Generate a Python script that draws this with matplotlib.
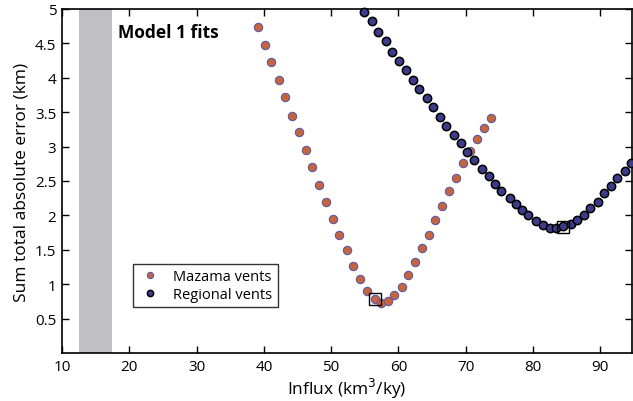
import matplotlib
matplotlib.use("Agg")
import matplotlib.pyplot as plt

plt.rcParams['font.family'] = ['Open Sans', 'DejaVu Sans']

mazama_x = [39.1, 40.1, 41.1, 42.2, 43.2, 44.2, 45.2, 46.2, 47.1, 48.2,
            49.3, 50.2, 51.2, 52.4, 53.3, 54.3, 55.3, 56.5, 57.4, 58.4,
            59.4, 60.5, 61.4, 62.4, 63.5, 64.5, 65.5, 66.5, 67.5, 68.6,
            69.6, 70.6, 71.6, 72.7, 73.7]
mazama_y = [4.74, 4.48, 4.23, 3.97, 3.72, 3.45, 3.21, 2.95, 2.70, 2.44,
            2.20, 1.95, 1.71, 1.49, 1.26, 1.08, 0.90, 0.78, 0.73, 0.75,
            0.84, 0.96, 1.14, 1.32, 1.52, 1.72, 1.93, 2.13, 2.35, 2.55,
            2.76, 2.93, 3.11, 3.27, 3.42]

regional_x = [54.9, 56.0, 57.0, 58.1, 59.1, 60.1, 61.1, 62.1, 63.1, 64.2,
              65.2, 66.2, 67.1, 68.3, 69.3, 70.2, 71.2, 72.4, 73.4, 74.3,
              75.3, 76.5, 77.4, 78.4, 79.3, 80.5, 81.5, 82.5, 83.4, 84.4,
              85.6, 86.6, 87.5, 88.5, 89.6, 90.6, 91.6, 92.5, 93.7, 94.6]
regional_y = [4.96, 4.82, 4.67, 4.53, 4.38, 4.24, 4.11, 3.97, 3.84, 3.70,
              3.57, 3.43, 3.30, 3.17, 3.05, 2.92, 2.81, 2.68, 2.57, 2.46,
              2.35, 2.26, 2.16, 2.08, 2.00, 1.92, 1.86, 1.82, 1.82, 1.84,
              1.87, 1.93, 2.01, 2.11, 2.20, 2.32, 2.43, 2.54, 2.65, 2.76]

best_x = [56.5, 84.4]
best_y = [0.78, 1.83]

band = (12.5, 17.5)

xticks = [10, 20, 30, 40, 50, 60, 70, 80, 90]
yticks = [0.5, 1, 1.5, 2, 2.5, 3, 3.5, 4, 4.5, 5]
ytick_labels = ['0.5', '1', '1.5', '2', '2.5', '3', '3.5', '4', '4.5', '5']

fig = plt.figure(figsize=(6.33, 4.02), dpi=100)
ax = fig.add_axes([62/633, 48/402, 570/633, 344/402])

ax.axvspan(band[0], band[1], color='#c0c0c2', lw=0, zorder=0)

ax.plot(mazama_x, mazama_y, 'o', ms=6, mfc='#c8643c', mec='#5a5aa8', mew=0.8,
        label='Mazama vents', zorder=3, clip_on=False)
ax.plot(regional_x, regional_y, 'o', ms=6, mfc='#3c3c8a', mec='black', mew=1.1,
        label='Regional vents', zorder=3, clip_on=False)
ax.plot(best_x, best_y, 's', ms=9, mfc='none', mec='black', mew=1.0, zorder=4)

ax.set_xlim(10, 94.7)
ax.set_ylim(0, 5)
ax.set_xticks(xticks)
ax.set_yticks(yticks)
ax.set_yticklabels(ytick_labels)
ax.tick_params(direction='in', length=5, width=1, labelsize=11, top=True, right=True,
               pad=4)
for s in ax.spines.values():
    s.set_linewidth(1.2)

ax.set_xlabel('Influx (km$^3$/ky)', fontsize=12.5, labelpad=2)
ax.set_ylabel('Sum total absolute error (km)', fontsize=12.5, labelpad=4)

ax.text(18.3, 4.66, 'Model 1 fits', fontsize=12.5, fontweight='bold', va='center', ha='left')

leg = ax.legend(loc='lower left', bbox_to_anchor=(0.125, 0.134), fontsize=10.5,
                frameon=True, fancybox=False, edgecolor='black', handletextpad=0.8,
                borderpad=0.35, labelspacing=0.2, markerscale=0.75, handlelength=1.6,
                borderaxespad=0)
leg.get_frame().set_linewidth(1.0)

fig.savefig('out.png', dpi=100)
